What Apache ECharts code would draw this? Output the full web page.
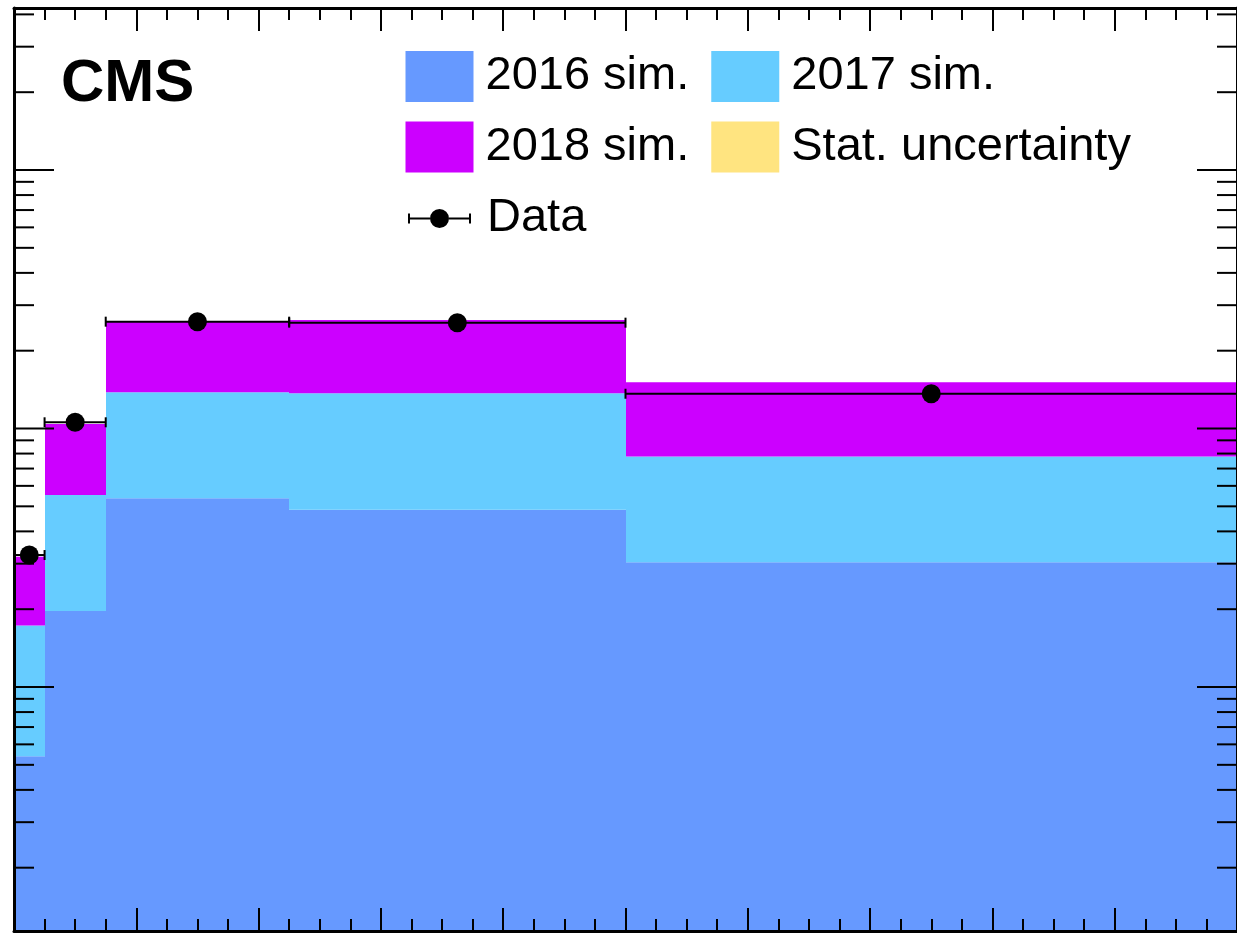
<!DOCTYPE html>
<html><head><meta charset="utf-8">
<script src="https://cdn.jsdelivr.net/npm/echarts@6/dist/echarts.min.js"></script>
<style>html,body{margin:0;padding:0;background:#fff}#c{width:1237px;height:933px}</style>
</head><body><div id="c"></div>
<script>
// ---- data ----
const binEdges = [0, 25, 75, 225, 500, 1000];
const sim2016 = [54, 197, 537, 485, 304];
const sim2017 = [119, 356, 843, 883, 476];
const sim2018 = [146, 488, 1202, 1260, 729];
const dataCounts = [324, 1057, 2590, 2567, 1363];
const seriesNames = ['2016 sim.', '2017 sim.', '2018 sim.', 'Stat. uncertainty', 'Data'];
const yMin = 11.38, yMax = 42340;
const yMinorMultipliers = [2, 3, 4, 5, 6, 7, 8, 9];

const colors = {s16: '#6699ff', s17: '#66ccff', s18: '#cc00ff', stat: '#ffe480'};

// ---- derived ----
const cum1 = sim2016.slice();
const cum2 = sim2016.map((v, i) => v + sim2017[i]);
const cum3 = cum2.map((v, i) => v + sim2018[i]);
function layer(lo, hi) {
  return hi.map((h, i) => [binEdges[i], binEdges[i + 1], lo ? lo[i] : yMin, h]);
}
const binCenters = binEdges.slice(0, -1).map((e, i) => (e + binEdges[i + 1]) / 2);

const yTicks = [];
for (let d = 1; d <= 4; d++) {
  const base = Math.pow(10, d);
  if (base >= yMin && base <= yMax) yTicks.push([0, base, 1]);
  yMinorMultipliers.forEach(m => {
    const v = m * base;
    if (v >= yMin && v <= yMax) yTicks.push([0, v, 0]);
  });
}

function rectItem(color) {
  return function (params, api) {
    const p0 = api.coord([api.value(0), api.value(3)]);
    const p1 = api.coord([api.value(1), api.value(2)]);
    const x0 = Math.round(p0[0]), x1 = Math.round(p1[0]);
    return {type: 'rect', shape: {x: x0, y: p0[1], width: x1 - x0, height: p1[1] - p0[1]},
      style: {fill: color}};
  };
}

const chart = echarts.init(document.getElementById('c'), null, {renderer: 'canvas'});
const font = 'Liberation Sans';
const axisCommonX = {
  type: 'value', min: 0, max: 1000, interval: 100, z: 10,
  axisLine: {show: true, onZero: false, lineStyle: {color: '#000', width: 3}},
  axisTick: {show: true, inside: true, length: 23, lineStyle: {color: '#000', width: 2}},
  minorTick: {show: true, splitNumber: 4, length: 12, lineStyle: {color: '#000', width: 2}},
  axisLabel: {show: false}, splitLine: {show: false}, minorSplitLine: {show: false}
};
const axisCommonY = {
  type: 'log', logBase: 10, min: yMin, max: yMax, z: 10,
  axisLine: {show: true, onZero: false, lineStyle: {color: '#000', width: 3}},
  axisTick: {show: false}, axisLabel: {show: false}, splitLine: {show: false}, minorTick: {show: false}
};
const legendCommon = {
  orient: 'horizontal', left: 405.5, padding: 0, itemWidth: 68, itemHeight: 51, itemGap: 22,
  selectedMode: false,
  textStyle: {fontFamily: font, fontSize: 47, color: '#000', lineHeight: 51, padding: [0, 0, 0, 7]}
};
const dataIcon = 'path://M0,8.6 L22,8.6 L22,10.4 L0,10.4 Z M41,8.6 L63,8.6 L63,10.4 L41,10.4 Z M0,4.5 L2,4.5 L2,14.5 L0,14.5 Z M61,4.5 L63,4.5 L63,14.5 L61,14.5 Z M22,9.5 A9.5,9.5 0 1,1 41,9.5 A9.5,9.5 0 1,1 22,9.5 Z';

chart.setOption({
  animation: false,
  backgroundColor: '#fff',
  grid: {left: 14, top: 8, width: 1224, height: 923, containLabel: false},
  xAxis: [Object.assign({position: 'bottom'}, axisCommonX), Object.assign({position: 'top'}, axisCommonX)],
  yAxis: [Object.assign({position: 'left'}, axisCommonY), Object.assign({position: 'right'}, axisCommonY)],
  legend: [
    Object.assign({}, legendCommon, {top: 51, data: [{name: seriesNames[0], icon: 'rect'}, {name: seriesNames[1], icon: 'rect'}]}),
    Object.assign({}, legendCommon, {top: 121.5, data: [{name: seriesNames[2], icon: 'rect'}, {name: seriesNames[3], icon: 'rect'}]}),
    Object.assign({}, legendCommon, {top: 193, left: 408, itemWidth: 63, itemHeight: 19,
      textStyle: Object.assign({}, legendCommon.textStyle, {padding: [0, 0, 0, 11]}),
      data: [{name: seriesNames[4], icon: dataIcon}]})
  ],
  graphic: [{type: 'text', x: 61, y: 84, z: 20,
    style: {text: 'CMS', fontFamily: font, fontWeight: 'bold', fontSize: 60, fill: '#000', align: 'left', verticalAlign: 'middle'}}],
  series: [
    {name: seriesNames[0], type: 'custom', z: 2, itemStyle: {color: colors.s16}, renderItem: rectItem(colors.s16),
      encode: {x: [0, 1], y: [2, 3]}, data: layer(null, cum1)},
    {name: seriesNames[1], type: 'custom', z: 2, itemStyle: {color: colors.s17}, renderItem: rectItem(colors.s17),
      encode: {x: [0, 1], y: [2, 3]}, data: layer(cum1, cum2)},
    {name: seriesNames[2], type: 'custom', z: 2, itemStyle: {color: colors.s18}, renderItem: rectItem(colors.s18),
      encode: {x: [0, 1], y: [2, 3]}, data: layer(cum2, cum3)},
    {name: seriesNames[3], type: 'custom', z: 2, itemStyle: {color: colors.stat}, renderItem: rectItem(colors.stat),
      encode: {x: [0, 1], y: [2, 3]}, data: []},
    {name: 'Data errors', type: 'custom', z: 4,
      encode: {x: [0, 1], y: 2},
      data: dataCounts.map((v, i) => [binEdges[i], binEdges[i + 1], v]),
      renderItem: function (params, api) {
        const p0 = api.coord([api.value(0), api.value(2)]);
        const p1 = api.coord([api.value(1), api.value(2)]);
        const st = {stroke: '#000', lineWidth: 2};
        return {type: 'group', children: [
          {type: 'line', shape: {x1: p0[0], y1: p0[1], x2: p1[0], y2: p1[1]}, style: st},
          {type: 'line', shape: {x1: p0[0], y1: p0[1] - 5, x2: p0[0], y2: p0[1] + 5}, style: st},
          {type: 'line', shape: {x1: p1[0], y1: p1[1] - 5, x2: p1[0], y2: p1[1] + 5}, style: st}
        ]};
      }},
    {name: seriesNames[4], type: 'scatter', z: 5, symbol: 'circle', symbolSize: 19,
      itemStyle: {color: '#000', opacity: 1}, data: binCenters.map((c, i) => [c, dataCounts[i]])},
    {name: 'y ticks', type: 'custom', z: 11, silent: true,
      encode: {x: 0, y: 1}, data: yTicks,
      renderItem: function (params, api) {
        const v = api.value(1);
        const len = api.value(2) ? 40 : 20;
        const pl = api.coord([0, v]);
        const pr = api.coord([1000, v]);
        const st = {stroke: '#000', lineWidth: 2};
        return {type: 'group', children: [
          {type: 'line', shape: {x1: pl[0], y1: pl[1], x2: pl[0] + len, y2: pl[1]}, style: st},
          {type: 'line', shape: {x1: pr[0], y1: pr[1], x2: pr[0] - len, y2: pr[1]}, style: st}
        ]};
      }}
  ]
});
</script></body></html>
